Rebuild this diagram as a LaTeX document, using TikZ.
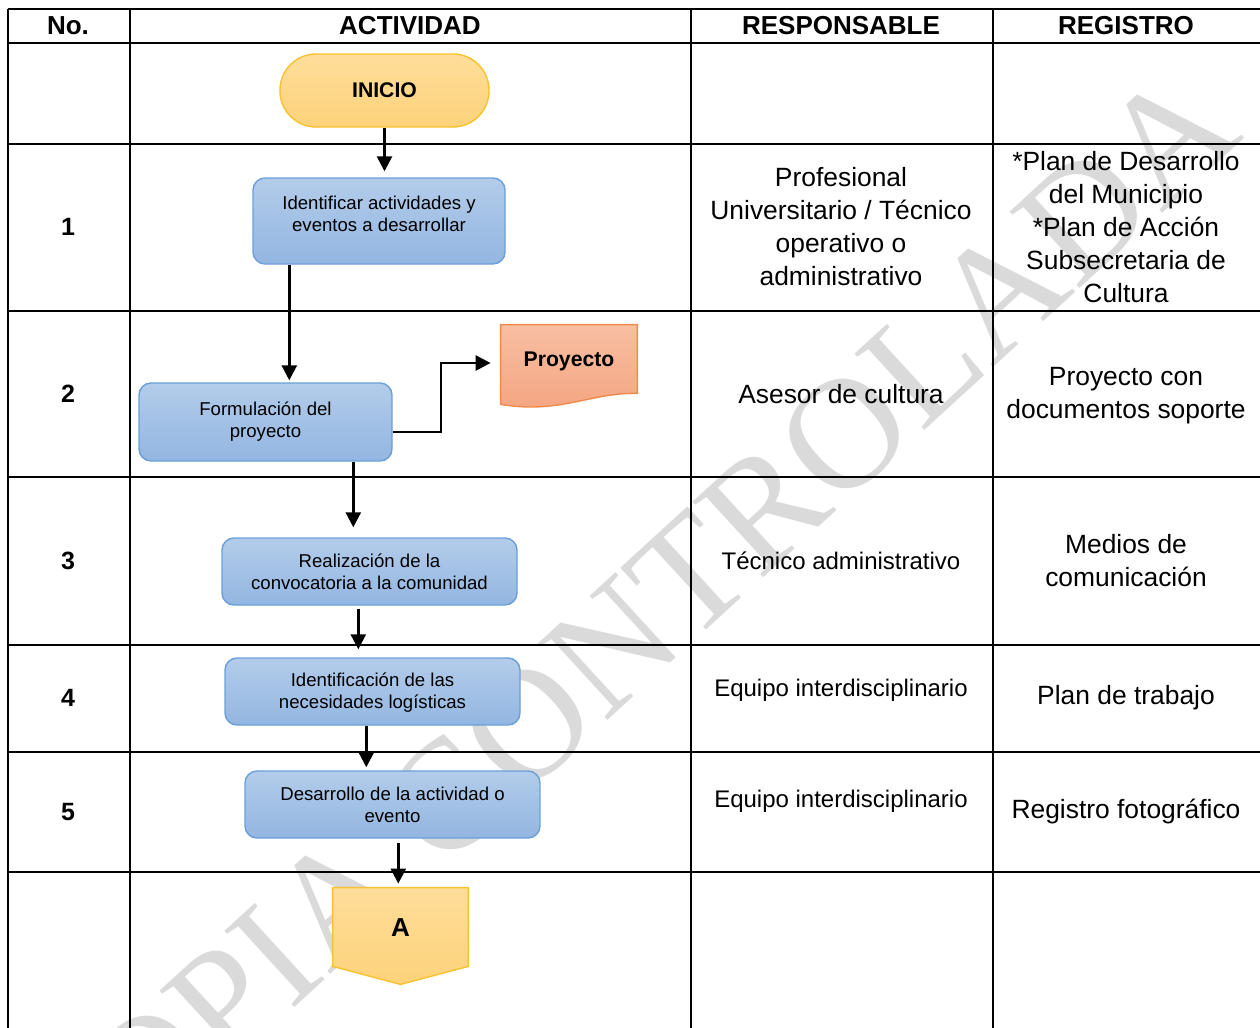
\documentclass[tikz,border=0pt]{standalone}
\usepackage{fontspec}
\setmainfont{Liberation Sans}
\newfontfamily\marcafont{Liberation Serif}
\usetikzlibrary{arrows.meta, calc, backgrounds, positioning}
\definecolor{azularriba}{HTML}{B3CCEA}
\definecolor{azulabajo}{HTML}{93B6E1}
\definecolor{azulborde}{HTML}{6A9FD9}
\definecolor{amarilloarriba}{HTML}{FEDE9A}
\definecolor{amarilloabajo}{HTML}{FDD27A}
\definecolor{amarilloborde}{HTML}{F8C22E}
\definecolor{naranjaarriba}{HTML}{F7BFA3}
\definecolor{naranjaabajo}{HTML}{F4A47F}
\definecolor{naranjaborde}{HTML}{EF8A4C}
\definecolor{gris}{HTML}{DADADA}
\newcommand\celda{\fontsize{13.2}{16.5}\selectfont}
\newcommand\chica{\fontsize{12}{15}\selectfont}

\begin{document}
\begin{tikzpicture}[x=0.5pt, y=-0.5pt,
  linea/.style={line width=1.4pt},
  flecha/.style={line width=1.3pt, -{Triangle[length=7.5pt, width=7.5pt]}},
  actividad/.style={draw=azulborde, line width=0.7pt, rounded corners=6pt, top color=azularriba, bottom color=azulabajo, align=center, inner sep=0pt, font=\fontsize{9.3}{11}\selectfont},
  terminal/.style={draw=amarilloborde, line width=0.7pt, rounded corners=18pt, top color=amarilloarriba, bottom color=amarilloabajo, minimum width=104.5pt, minimum height=36.5pt, font=\bfseries\fontsize{10.6}{12}\selectfont},
  encab/.style={font=\bfseries\fontsize{13}{15}\selectfont},
  numero/.style={font=\bfseries\fontsize{12.5}{15}\selectfont},
  texto/.style={align=center, font=\celda}]
\useasboundingbox (0,0) rectangle (1260,1028);
\clip (0,0) rectangle (1260,1028);

% marca de agua
\begin{scope}[on background layer]
\node[rotate=42.5, text=gris, font=\marcafont\fontsize{79}{79}\selectfont] (marca) at (620,640) {COPIA CONTROLADA};
\end{scope}

% tabla
\foreach \y in {9,43,144,311,477,645,752,872}
  \draw[linea] (8,\y) -- (1260,\y);
\foreach \x in {8,130,691,993}
  \draw[linea] (\x,9) -- (\x,1028);

\node[encab] (hno) at (68,26) {No.};
\node[encab] (hact) at (410,26) {ACTIVIDAD};
\node[encab] (hresp) at (841,26) {RESPONSABLE};
\node[encab] (hreg) at (1126,26) {REGISTRO};

\foreach \n/\y in {1/227,2/394,3/561,4/698,5/812}
  \node[numero] (n\n) at (68,\y) {\n};

\node[texto] (resp1) at (841,227) {Profesional\\Universitario / Técnico\\operativo o\\administrativo};
\node[texto] (resp2) at (841,394) {Asesor de cultura};
\node[texto, font=\chica] (resp3) at (841,561) {Técnico administrativo};
\node[texto, font=\chica] (resp4) at (841,690) {Equipo interdisciplinario};
\node[texto, font=\chica] (resp5) at (841,801) {Equipo interdisciplinario};

\node[texto] (reg1) at (1126,227) {*Plan de Desarrollo\\del Municipio\\*Plan de Acción\\Subsecretaria de\\Cultura};
\node[texto] (reg2) at (1126,396) {Proyecto con\\documentos soporte};
\node[texto] (reg3) at (1126,561) {Medios de\\comunicación};
\node[texto] (reg4) at (1126,698) {Plan de trabajo};
\node[texto] (reg5) at (1126,812) {Registro fotográfico};

% diagrama
\node[terminal] (inicio) at (384.5,90.5) {INICIO};
\node[actividad, minimum width=126pt, minimum height=43pt, text depth=7pt] (act1) at (379,221) {Identificar actividades y\\eventos a desarrollar};
\node[actividad, minimum width=126.5pt, minimum height=39pt] (act2) at (265.5,422) {Formulación del\\proyecto};
\node[actividad, minimum width=147.5pt, minimum height=33.5pt] (act3) at (369.5,571.5) {Realización de la\\convocatoria a la comunidad};
\node[actividad, minimum width=147.5pt, minimum height=33.5pt, text depth=0.5pt] (act4) at (372.5,691.5) {Identificación de las\\necesidades logísticas};
\node[actividad, minimum width=147.5pt, minimum height=33.5pt] (act5) at (392.5,804.5) {Desarrollo de la actividad o\\evento};
\node[minimum width=68pt, minimum height=36pt, font=\bfseries\fontsize{10.6}{12}\selectfont] (proy) at (569,361) {Proyecto};
\node[minimum width=67.5pt, minimum height=40pt, font=\bfseries\fontsize{13}{15}\selectfont] (conA) at (400.5,928) {A};

\begin{scope}[on background layer]
\draw[draw=naranjaborde, line width=0.7pt, top color=naranjaarriba, bottom color=naranjaabajo]
  (proy.north west) -- (proy.north east) -- ($(proy.south east)+(0,-4)$)
  .. controls ($(proy.south)+(21,-5)$) and ($(proy.south)+(-9,17)$) .. ($(proy.south west)+(0,7)$) -- cycle;
\draw[draw=amarilloborde, line width=0.7pt, top color=amarilloarriba, bottom color=amarilloabajo]
  (conA.north west) -- (conA.north east) -- ($(conA.south east)+(0,-2)$) -- ($(conA.south)+(0,16)$) -- ($(conA.south west)+(0,-2)$) -- cycle;
\end{scope}

\coordinate (b1) at ($(act1.south west)+(37,0)$);
\coordinate (b2) at ($(act2.south west)+(215,0)$);
\coordinate (b3) at ($(act3.south west)+(137,0)$);
\coordinate (b4) at ($(act4.south west)+(142,0)$);
\coordinate (b5) at ($(act5.south west)+(154,0)$);
\coordinate (codo) at (441,400);

\draw[flecha, shorten >=3pt] (inicio.south) -- (inicio.south |- act1.north);
\draw[flecha, shorten >=1pt] (b1) -- (b1 |- act2.north);
\draw[flecha, shorten >=5pt] ($(act2.east)+(0,10)$) -| (codo) |- ($(proy.west)+(0,2)$);
\draw[flecha, shorten >=5pt] (b2) -- (b2 |- act3.north);
\draw[flecha, shorten <=1.5pt, shorten >=4pt] (b3) -- (b3 |- act4.north);
\draw[flecha, shorten >=1.5pt] (b4) -- (b4 |- act5.north);
\draw[flecha, shorten <=2pt, shorten >=2pt] (b5) -- (b5 |- conA.north);
\end{tikzpicture}
\end{document}
